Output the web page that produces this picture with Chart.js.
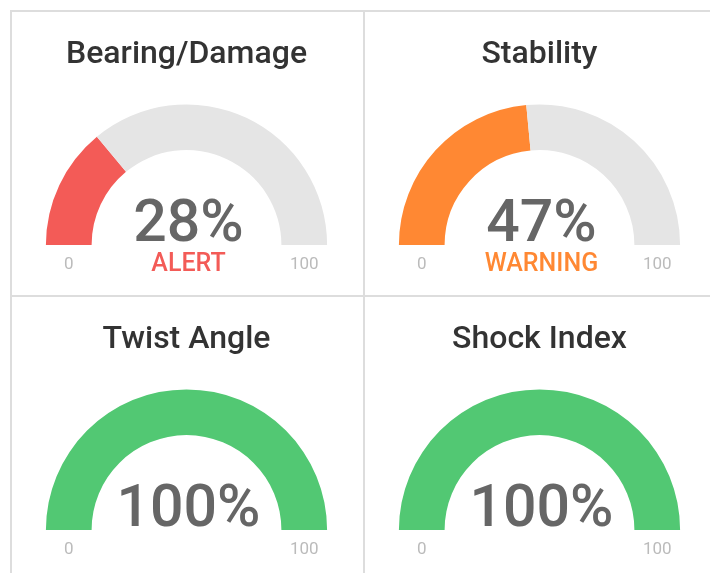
<!DOCTYPE html>
<html>
<head>
<meta charset="utf-8">
<script src="https://cdn.jsdelivr.net/npm/chart.js@4/dist/chart.umd.min.js"></script>
<style>
  body { margin: 0; background: #fff; width: 710px; height: 573px; overflow: hidden; }
  .panel {
    position: absolute;
    width: 352px;
    height: 283px;
    border-left: 2px solid #dddddd;
    border-top: 2px solid #dddddd;
  }
  .panel canvas { display: block; }
</style>
</head>
<body>
<div class="panel" style="left:10px; top:10px;"><canvas id="g0"></canvas></div>
<div class="panel" style="left:363px; top:10px; width:360px;"><canvas id="g1"></canvas></div>
<div class="panel" style="left:10px; top:295px;"><canvas id="g2"></canvas></div>
<div class="panel" style="left:363px; top:295px; width:360px;"><canvas id="g3"></canvas></div>
<script>
// gauge data
const titles = ['Bearing/Damage', 'Stability', 'Twist Angle', 'Shock Index'];
const values = [28, 47, 100, 100];
const statuses = ['ALERT', 'WARNING', '', ''];
const fillColors = ['#f35b57', '#ff8833', '#52c873', '#52c873'];
const scaleLabels = ['0', '100'];
const maxValue = 100;

Chart.defaults.font.family = 'Roboto';

// draws the big percentage, status word and the 0 / 100 labels
const gaugeText = {
  id: 'gaugeText',
  afterDraw(chart, args, opts) {
    const arc = chart.getDatasetMeta(0).data[0];
    if (!arc) return;
    const {x, y, outerRadius, innerRadius} = arc.getProps(['x', 'y', 'outerRadius', 'innerRadius'], true);
    const ctx = chart.ctx;
    ctx.save();
    ctx.textAlign = 'center';
    ctx.textBaseline = 'alphabetic';

    ctx.fillStyle = '#666666';
    ctx.font = '500 59px Roboto';
    ctx.fillText(opts.value + '%', x + 2, y - 4);

    if (opts.status) {
      ctx.fillStyle = opts.color;
      ctx.font = '500 25px Roboto';
      ctx.fillText(opts.status, x + 2, y + 26);
    }

    const mid = (outerRadius + innerRadius) / 2;
    ctx.fillStyle = '#bbbbbb';
    ctx.font = '17px Roboto';
    ctx.fillText(scaleLabels[0], x - mid, y + 24);
    ctx.fillText(scaleLabels[1], x + mid, y + 24);
    ctx.restore();
  }
};

titles.forEach((title, i) => {
  const canvas = document.getElementById('g' + i);
  canvas.width = 352;
  canvas.height = 283;
  new Chart(canvas, {
    type: 'doughnut',
    data: {
      labels: ['value', 'rest'],
      datasets: [{
        data: [values[i], maxValue - values[i]],
        backgroundColor: [fillColors[i], '#e5e5e5'],
        borderWidth: 0,
        hoverOffset: 0
      }]
    },
    options: {
      responsive: false,
      animation: false,
      rotation: -90,
      circumference: 180,
      cutout: '67.5%',
      layout: { padding: { top: 0, bottom: 50, left: 33, right: 36 } },
      plugins: {
        legend: { display: false },
        tooltip: { enabled: false },
        title: {
          display: true,
          text: title,
          color: '#333333',
          font: { size: 32, weight: '500', lineHeight: 1.2 },
          padding: { top: 24, bottom: 30 }
        },
        gaugeText: { value: values[i], status: statuses[i], color: fillColors[i] }
      }
    },
    plugins: [gaugeText]
  });
});
</script>
</body>
</html>
